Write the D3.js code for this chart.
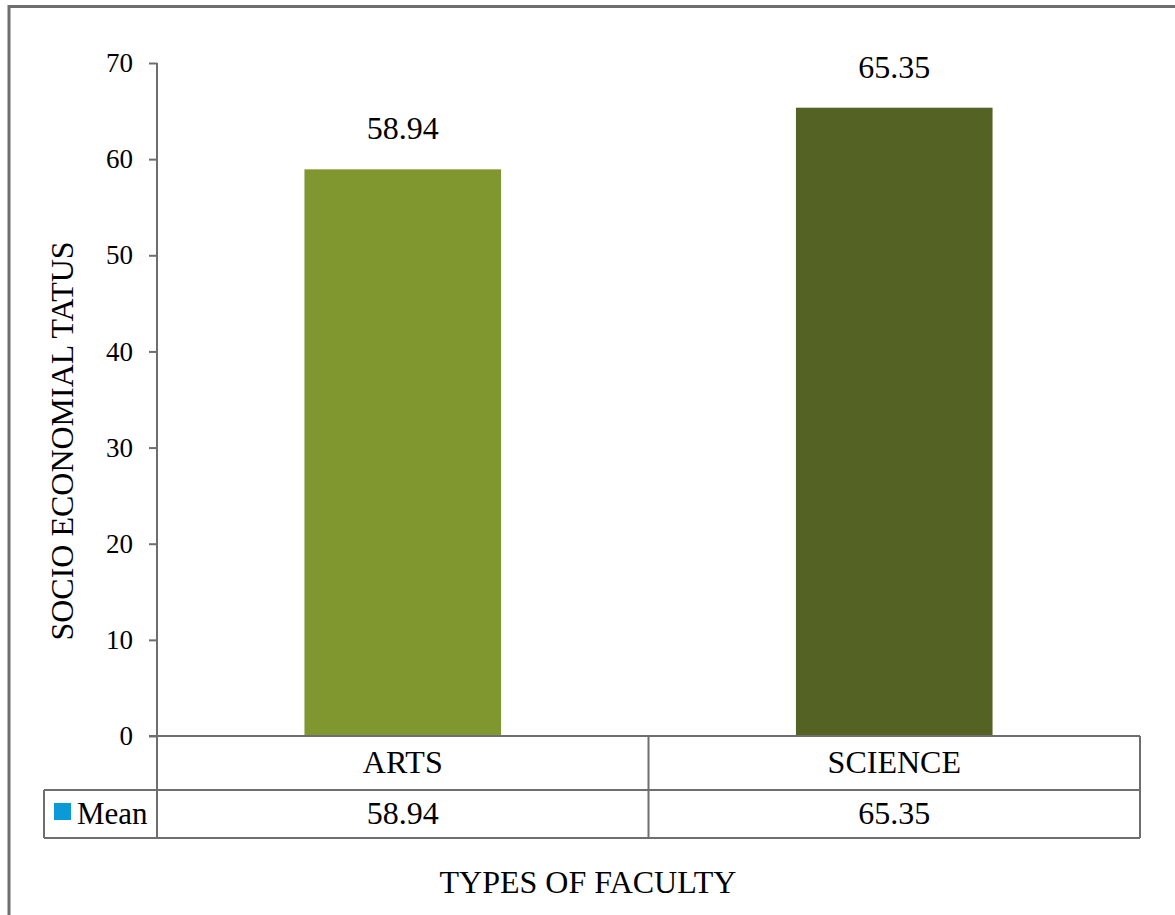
<!DOCTYPE html>
<html>
<head>
<meta charset="utf-8">
<script src="https://cdn.jsdelivr.net/npm/d3@7"></script>
</head>
<body style="margin:0; background:#fff">
<svg id="chart" width="1175" height="915"></svg>
<script>
// data
const categories = ['ARTS', 'SCIENCE']
const meanValues = [58.94, 65.35]
const seriesName = 'Mean'
const yTicks = [0, 10, 20, 30, 40, 50, 60, 70]
const barColors = ['#80962f', '#546324']

const svg = d3.select('#chart')
const lineCol = '#6e6e6e'
const serif = "'Liberation Serif', 'Times New Roman', serif"

const plot = { left: 157, right: 1140, top: 63, bottom: 736 }

// outer frame (runs off the right and bottom edge)
svg.append('rect')
  .attr('x', 9).attr('y', 6.5)
  .attr('width', 1200).attr('height', 1000)
  .attr('fill', 'none')
  .attr('stroke', lineCol)
  .attr('stroke-width', 3)

const xScale = d3.scaleBand()
  .domain(categories)
  .range([plot.left, plot.right])
  .paddingInner(0.6)
  .paddingOuter(0.3)

const yScale = d3.scaleLinear()
  .domain([0, 70])
  .range([plot.bottom, plot.top])

// bars
svg.append('g').selectAll('rect')
  .data(categories)
  .join('rect')
  .attr('x', d => xScale(d))
  .attr('y', (d, i) => yScale(meanValues[i]))
  .attr('width', xScale.bandwidth())
  .attr('height', (d, i) => yScale(0) - yScale(meanValues[i]))
  .attr('fill', (d, i) => barColors[i])

// value labels
svg.append('g').selectAll('text')
  .data(categories)
  .join('text')
  .attr('x', d => xScale(d) + xScale.bandwidth() / 2)
  .attr('y', (d, i) => yScale(meanValues[i]) - 30)
  .attr('text-anchor', 'middle')
  .style('font-family', serif)
  .style('font-size', '32px')
  .text((d, i) => meanValues[i].toFixed(2))

// y axis
const yAxis = svg.append('g')
  .attr('transform', 'translate(' + plot.left + ',0)')
  .call(d3.axisLeft(yScale).tickValues(yTicks).tickSize(8).tickPadding(16))
yAxis.select('.domain').attr('stroke', lineCol).attr('stroke-width', 2)
  .attr('d', 'M0,' + plot.top + 'V' + plot.bottom)
yAxis.selectAll('.tick line').attr('stroke', lineCol).attr('stroke-width', 2)
yAxis.selectAll('.tick text')
  .style('font-family', serif)
  .style('font-size', '27px')
  .attr('fill', '#000')

// data table under the axis
const rowTop = plot.bottom
const rowMid = 790
const rowBot = 838
const legendLeft = 44
const colEdges = [plot.left, (plot.left + plot.right) / 2, plot.right]

const table = svg.append('g')
  .attr('stroke', lineCol)
  .attr('stroke-width', 2)
table.append('line').attr('x1', 149).attr('x2', plot.right).attr('y1', rowTop).attr('y2', rowTop)
table.append('line').attr('x1', legendLeft).attr('x2', plot.right).attr('y1', rowMid).attr('y2', rowMid)
table.append('line').attr('x1', legendLeft).attr('x2', plot.right).attr('y1', rowBot).attr('y2', rowBot)
table.append('line').attr('x1', legendLeft).attr('x2', legendLeft).attr('y1', rowMid).attr('y2', rowBot)
colEdges.forEach(x => {
  table.append('line').attr('x1', x).attr('x2', x).attr('y1', rowTop).attr('y2', rowBot)
})

svg.append('g').selectAll('text')
  .data(categories)
  .join('text')
  .attr('x', d => xScale(d) + xScale.bandwidth() / 2)
  .attr('y', 773)
  .attr('text-anchor', 'middle')
  .style('font-family', serif)
  .style('font-size', '32px')
  .text(d => d)

svg.append('g').selectAll('text')
  .data(categories)
  .join('text')
  .attr('x', d => xScale(d) + xScale.bandwidth() / 2)
  .attr('y', 824)
  .attr('text-anchor', 'middle')
  .style('font-family', serif)
  .style('font-size', '32px')
  .text((d, i) => meanValues[i].toFixed(2))

// legend key
svg.append('rect')
  .attr('x', 54).attr('y', 803)
  .attr('width', 17).attr('height', 17)
  .attr('fill', '#0a9ad8')
svg.append('text')
  .attr('x', 77).attr('y', 824)
  .style('font-family', serif)
  .style('font-size', '31px')
  .text(seriesName)

// axis titles
svg.append('text')
  .attr('transform', 'translate(73,' + 441 + ') rotate(-90)')
  .attr('text-anchor', 'middle')
  .style('font-family', serif)
  .style('font-size', '32px')
  .text('SOCIO ECONOMIAL TATUS')

svg.append('text')
  .attr('x', 588).attr('y', 893)
  .attr('text-anchor', 'middle')
  .style('font-family', serif)
  .style('font-size', '32px')
  .text('TYPES OF FACULTY')
</script>
</body>
</html>
